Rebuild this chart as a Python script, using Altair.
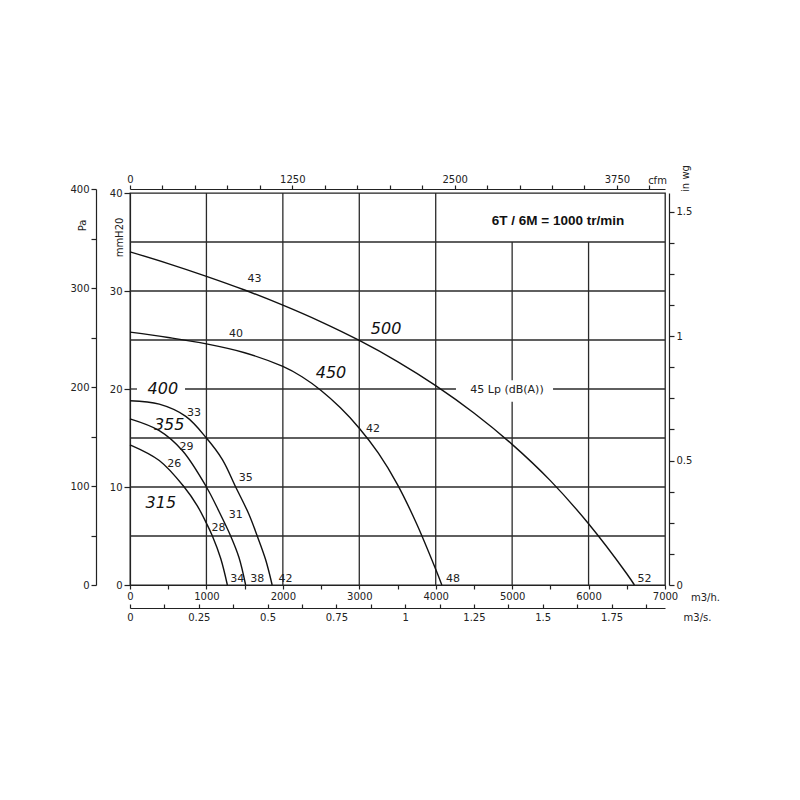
import altair as alt
import pandas as pd

# ---------------- data (flow m3/h, pressure mmH2O) ----------------
sizes = ["500", "450", "400", "355", "315"]
q_500 = [0, 500, 1000, 1500, 2000, 2500, 3000, 3500, 4000, 4500, 5000, 5500, 6000, 6500, 6600]
p_500 = [34.0, 32.8, 31.5, 30.1, 28.55, 26.85, 24.95, 22.8, 20.35, 17.55, 14.35, 10.65, 6.25, 1.15, 0.0]
q_450 = [0, 500, 1000, 1500, 2000, 2250, 2500, 2750, 3000, 3250, 3500, 3750, 4000, 4080]
p_450 = [25.8, 25.25, 24.6, 23.7, 22.3, 21.25, 19.85, 18.1, 16.0, 13.45, 10.25, 6.25, 1.6, 0.0]
q_400 = [0, 383, 730, 1000, 1209, 1383, 1557, 1665, 1774, 1860]
p_400 = [18.8, 18.45, 17.2, 15.0, 12.8, 10.0, 7.2, 5.0, 2.6, 0.0]
q_355 = [0, 383, 687, 1000, 1165, 1317, 1426, 1513]
p_355 = [16.95, 15.75, 13.7, 10.0, 7.5, 5.0, 2.8, 0.0]
q_315 = [0, 383, 709, 883, 1000, 1078, 1187, 1274]
p_315 = [14.3, 12.7, 10.0, 8.05, 6.3, 5.0, 2.7, 0.0]

model_text = ["500", "450", "400", "355", "315"]
model_q = [3350, 2630, 430, 513, 404]
model_p = [26.1, 21.6, 20.0, 16.3, 8.4]

noise_text = ["43", "40", "42", "33", "29", "26", "35", "31", "28", "34", "38", "42", "48", "52"]
noise_q = [1629, 1387, 3180, 839, 739, 578, 1513, 1383, 1157, 1404, 1665, 2035, 4226, 6732]
noise_p = [31.2, 25.6, 15.9, 17.6, 14.1, 12.3, 10.9, 7.1, 5.8, 0.6, 0.6, 0.6, 0.6, 0.6]

lp_text = ["45 Lp  (dB(A))"]
lp_q = [4933]
lp_p = [19.9]

head_text = ["6T / 6M = 1000 tr/min"]
head_q = [5600]
head_p = [37.1]

# grid segments
hgrid_p = [5, 10, 15, 25, 30, 35, 20, 20, 20]
hgrid_q1 = [0, 0, 0, 0, 0, 0, 0, 720, 5535]
hgrid_q2 = [7000, 7000, 7000, 7000, 7000, 7000, 92, 4265, 7000]
vgrid_q = [1000, 2000, 3000, 4000, 5000, 5000, 6000]
vgrid_p1 = [0, 0, 0, 0, 0, 20.9, 0]
vgrid_p2 = [40, 40, 40, 40, 18.7, 35, 35]

Q_MAX = 7000
P_MAX = 40
M3H_PER_CFM = 1.699
M3H_PER_M3S = 3600
MM_PER_INWG = 25.4

# ---------------- frames ----------------
rows = []
for s, qs, ps in zip(sizes, [q_500, q_450, q_400, q_355, q_315], [p_500, p_450, p_400, p_355, p_315]):
    for q, p in zip(qs, ps):
        rows.append({"size": s, "q": q, "p": p})
df_curves = pd.DataFrame(rows)
df_model = pd.DataFrame({"t": model_text, "q": model_q, "p": model_p})
df_noise = pd.DataFrame({"t": noise_text, "q": noise_q, "p": noise_p})
df_lp = pd.DataFrame({"t": lp_text, "q": lp_q, "p": lp_p})
df_head = pd.DataFrame({"t": head_text, "q": head_q, "p": head_p})
df_h = pd.DataFrame({"q1": hgrid_q1, "q2": hgrid_q2, "p": hgrid_p})
df_v = pd.DataFrame({"q": vgrid_q, "p1": vgrid_p1, "p2": vgrid_p2})

FONT = "DejaVu Sans"
INK = "#222222"

xs = alt.Scale(domain=[0, Q_MAX], nice=False, zero=True)
ys = alt.Scale(domain=[0, P_MAX], nice=False, zero=True)

hgrid = alt.Chart(df_h).mark_rule(color="#2a2a2a", strokeWidth=1.3).encode(
    x=alt.X("q1:Q", scale=xs, axis=None), x2="q2:Q",
    y=alt.Y("p:Q", scale=ys, axis=None))
vgrid = alt.Chart(df_v).mark_rule(color="#2a2a2a", strokeWidth=1.3).encode(
    x=alt.X("q:Q", scale=xs, axis=None),
    y=alt.Y("p1:Q", scale=ys, axis=None), y2="p2:Q")

x_main_axis = alt.Axis(
    orient="bottom", values=list(range(0, 7001, 500)),
    labelExpr="datum.value % 1000 === 0 ? format(datum.value, 'd') : ''",
    tickSize=4, labelPadding=2, labelFlush=False, labelOverlap=False,
    title="m3/h.", titleX=575, titleY=12, titleAngle=0, titleAlign="center", titleBaseline="middle")
y_main_axis = alt.Axis(
    orient="left", values=[0, 10, 20, 30, 40], format="d",
    tickSize=6, labelPadding=2, labelFlush=False, labelOverlap=False,
    title="mmH20", titleX=-11, titleY=44, titleAngle=270, titleAlign="center", titleBaseline="middle")

curves = alt.Chart(df_curves).mark_line(interpolate="catmull-rom", color="#111111", strokeWidth=1.4).encode(
    x=alt.X("q:Q", scale=xs, axis=x_main_axis),
    y=alt.Y("p:Q", scale=ys, axis=y_main_axis),
    detail="size:N")

noise = alt.Chart(df_noise).mark_text(font=FONT, fontSize=11, color=INK, align="center", baseline="middle").encode(
    x=alt.X("q:Q", scale=xs, axis=None), y=alt.Y("p:Q", scale=ys, axis=None), text="t:N")
models = alt.Chart(df_model).mark_text(font=FONT, fontSize=16, fontStyle="italic", color="#111111",
                                       align="center", baseline="middle").encode(
    x=alt.X("q:Q", scale=xs, axis=None), y=alt.Y("p:Q", scale=ys, axis=None), text="t:N")
lp = alt.Chart(df_lp).mark_text(font=FONT, fontSize=11, color=INK, align="center", baseline="middle").encode(
    x=alt.X("q:Q", scale=xs, axis=None), y=alt.Y("p:Q", scale=ys, axis=None), text="t:N")
head = alt.Chart(df_head).mark_text(font="Liberation Sans", fontSize=13.5, fontWeight="bold", color="#111111",
                                    align="center", baseline="middle").encode(
    x=alt.X("q:Q", scale=xs, axis=None), y=alt.Y("p:Q", scale=ys, axis=None), text="t:N")

# ---------------- extra axes ----------------
pa_layer = alt.Chart(pd.DataFrame({"pa": [0, 400]})).mark_point(opacity=0).encode(
    y=alt.Y("pa:Q", scale=alt.Scale(domain=[0, 400], range=[392, -4], nice=False),
            axis=alt.Axis(orient="left", offset=34, values=list(range(0, 401, 50)),
                          labelExpr="datum.value % 100 === 0 ? format(datum.value, 'd') : ''",
                          tickSize=5, labelPadding=2, labelFlush=False, labelOverlap=False,
                          title="Pa", titleX=-14, titleY=32, titleAngle=270,
                          titleAlign="center", titleBaseline="middle")))

wg_layer = alt.Chart(pd.DataFrame({"wg": [0, 1.5]})).mark_point(opacity=0).encode(
    y=alt.Y("wg:Q", scale=alt.Scale(domain=[0, P_MAX / MM_PER_INWG], nice=False),
            axis=alt.Axis(orient="right", offset=4, values=[i * 0.125 for i in range(13)],
                          labelExpr="datum.value % 0.5 === 0 ? format(datum.value, '~g') : ''",
                          tickSize=5, labelPadding=2, labelFlush=False, labelOverlap=False,
                          title="in wg", titleX=16, titleY=-15, titleAngle=270,
                          titleAlign="center", titleBaseline="middle")))

cfm_layer = alt.Chart(pd.DataFrame({"cfm": [0, 4000]})).mark_point(opacity=0).encode(
    x=alt.X("cfm:Q", scale=alt.Scale(domain=[0, Q_MAX / M3H_PER_CFM], nice=False),
            axis=alt.Axis(orient="top", offset=4, values=list(range(0, 4001, 250)),
                          labelExpr="datum.value % 1250 === 0 ? format(datum.value, 'd') : ''",
                          tickSize=4, labelPadding=1, labelFlush=False, labelOverlap=False,
                          title="cfm", titleX=527, titleY=-9, titleAngle=0,
                          titleAlign="center", titleBaseline="middle")))

ms_layer = alt.Chart(pd.DataFrame({"ms": [0, 1.75]})).mark_point(opacity=0).encode(
    x=alt.X("ms:Q", scale=alt.Scale(domain=[0, Q_MAX / M3H_PER_M3S], nice=False),
            axis=alt.Axis(orient="top", offset=-415, values=[i * 0.125 for i in range(16)],
                          labelExpr="datum.value % 0.25 === 0 ? format(datum.value, '~g') : ''",
                          tickSize=4, labelPadding=-13, labelBaseline="middle",
                          labelFlush=False, labelOverlap=False,
                          title="m3/s.", titleX=567, titleY=9, titleAngle=0,
                          titleAlign="center", titleBaseline="middle")))

chart = alt.layer(
    hgrid, vgrid, curves, noise, models, lp, head,
    pa_layer, wg_layer, cfm_layer, ms_layer
).resolve_scale(x="independent", y="independent").properties(
    width=535, height=392,
    autosize=alt.AutoSizeParams(type="none"),
    padding={"left": 122, "top": 185, "right": 127, "bottom": 207},
    background="white",
).configure_view(stroke=INK, strokeWidth=1.3).configure_axis(
    labelFont=FONT, labelFontSize=10, labelColor=INK,
    titleFont=FONT, titleFontSize=10, titleFontWeight="normal", titleColor=INK,
    domainColor=INK, tickColor=INK, domainWidth=1.2, tickWidth=1.2, grid=False)

chart.save("out.html", embed_options={"renderer": "svg", "actions": False})
